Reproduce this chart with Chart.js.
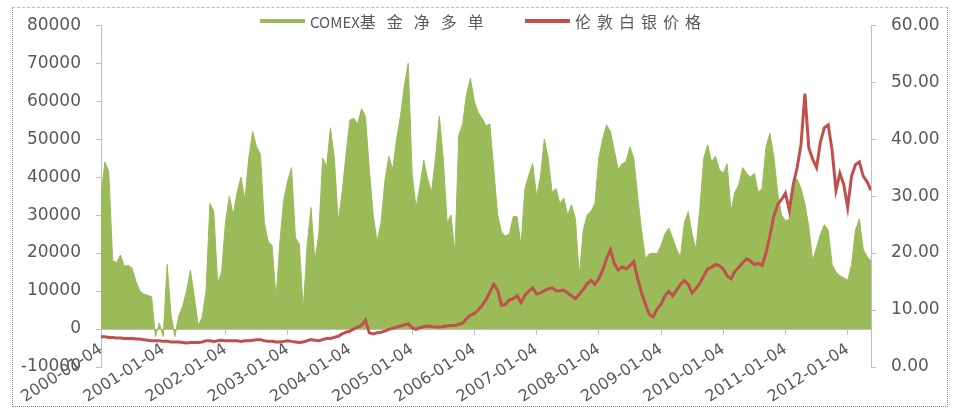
<!DOCTYPE html>
<html>
<head>
<meta charset="utf-8">
<script src="https://cdn.jsdelivr.net/npm/chart.js@4.4.1/dist/chart.umd.min.js"></script>
<style>
  html, body { margin: 0; padding: 0; background: #fff; }
  #wrap { position: relative; width: 953px; height: 409px; }
  #frame {
    position: absolute; left: 12px; top: 7px; width: 934px; height: 398px;
    border: 1px dotted #8c8c8c; border-top: 1px dashed #bdbdbd;
    pointer-events: none;
  }
  .item { position: absolute; top: 11px; height: 20px; display: flex; align-items: center;
          font-family: "Noto Sans CJK SC", "DejaVu Sans", sans-serif; font-size: 15px; color: #595959; white-space: nowrap; }
  .swatch { display: inline-block; width: 45px; height: 4px; margin-right: 5px; }
</style>
</head>
<body>
<div id="wrap">
  <canvas id="chart" width="953" height="409"></canvas>
  <div id="frame"></div>
</div>
<script>
// x positions: one value every 1/16 year starting 2000-01-04
var startYear = 2000;
var stepsPerYear = 16;
var yearLabels = ['2000-01-04', '2001-01-04', '2002-01-04', '2003-01-04', '2004-01-04', '2005-01-04',
  '2006-01-04', '2007-01-04', '2008-01-04', '2009-01-04', '2010-01-04', '2011-01-04', '2012-01-04'];

// COMEX基金净多单 (contracts)
var netLong = [
  35000, 44000, 41500, 18000, 17500, 19500, 16500, 16800, 16000, 12500, 10000, 9200, 8900, 8500, -2000, 1600,
  -2000, 17000, 3800, -2000, 3500, 6000, 10000, 15500, 8500, 1000, 3000, 10000, 33000, 31000, 12000, 15000,
  28000, 35000, 30000, 36000, 40000, 34000, 45000, 52000, 48000, 46000, 28000, 23000, 22000, 8000, 23000, 34000,
  39000, 42500, 24000, 22400, 5000, 22000, 32000, 18000, 25000, 45000, 42700, 53000, 45000, 28300, 36000, 46000,
  55000, 55500, 54000, 58000, 56000, 42000, 30000, 23000, 28000, 39000, 45500, 42000, 50000, 56000, 64000, 70000,
  41000, 32000, 37500, 44500, 39500, 36000, 45000, 56000, 45000, 28000, 30000, 20000, 51000, 54000, 62000, 66000,
  60000, 57000, 55500, 53500, 54000, 42000, 30000, 25500, 24500, 25000, 29600, 29600, 22000, 37000, 40500, 43600,
  35000, 40000, 50000, 45000, 36000, 37000, 33000, 34500, 30000, 32700, 29000, 14000, 26000, 30000, 31000, 33000,
  45000, 50000, 53800, 52000, 47000, 42000, 43500, 44000, 48000, 45000, 35000, 26000, 18500, 19800, 20000, 19800,
  22000, 25000, 26600, 24000, 21000, 19000, 28000, 30900, 25000, 21000, 32000, 45000, 48500, 44000, 45500, 42000,
  41000, 43500, 31000, 36000, 38000, 42500, 41000, 40000, 41000, 36000, 37000, 48000, 51500, 45500, 36000, 30000,
  28500, 29000, 38500, 39500, 37000, 33000, 27000, 18000, 21500, 25000, 27500, 26000, 17000, 15000, 14000, 13500,
  12800, 17000, 26000, 29000, 21000, 19000, 18000
];

// 伦敦白银价格 (USD/oz)
var silverPrice = [
  5.3, 5.3, 5.2, 5.2, 5.1, 5.1, 5.0, 5.0, 5.0, 4.9, 4.9, 4.8, 4.7, 4.6, 4.6, 4.6,
  4.5, 4.5, 4.4, 4.4, 4.4, 4.3, 4.2, 4.3, 4.3, 4.3, 4.4, 4.6, 4.6, 4.5, 4.6, 4.7,
  4.6, 4.6, 4.6, 4.6, 4.5, 4.6, 4.6, 4.7, 4.8, 4.8, 4.6, 4.5, 4.5, 4.4, 4.4, 4.5,
  4.6, 4.5, 4.4, 4.3, 4.4, 4.6, 4.8, 4.7, 4.6, 4.8, 5.0, 5.0, 5.2, 5.4, 5.8, 6.1,
  6.3, 6.7, 7.0, 7.3, 8.2, 6.0, 5.8, 6.0, 6.1, 6.3, 6.6, 6.8, 7.0, 7.2, 7.4, 7.6,
  6.9, 6.6, 6.9, 7.1, 7.2, 7.1, 7.0, 7.0, 7.1, 7.2, 7.3, 7.3, 7.5, 7.7, 8.5, 9.1,
  9.4, 10.0, 10.8, 11.8, 13.2, 14.5, 13.5, 10.8, 11.0, 11.8, 12.0, 12.5, 11.3, 12.6, 13.3, 13.9,
  12.8, 13.0, 13.4, 13.7, 13.9, 13.4, 13.4, 13.5, 13.0, 12.5, 12.0, 12.8, 13.6, 14.6, 15.2, 14.5,
  15.5, 17.0, 19.0, 20.6, 18.2, 17.0, 17.6, 17.2, 17.8, 18.5, 15.5, 13.0, 11.0, 9.2, 8.8, 10.2,
  11.0, 12.5, 13.3, 12.5, 13.5, 14.5, 15.2, 14.5, 13.0, 13.8, 14.7, 16.0, 17.2, 17.5, 18.0, 17.8,
  17.2, 16.0, 15.5, 16.8, 17.5, 18.3, 19.0, 18.6, 18.0, 18.2, 17.8, 20.0, 23.0, 26.5, 28.5, 29.4,
  30.5, 27.5, 32.0, 35.0, 39.0, 48.0, 38.5, 36.5, 35.0, 39.5, 42.0, 42.5, 38.0, 31.0, 34.0, 32.0,
  28.0, 33.5, 35.5, 36.0, 33.5, 32.5, 31.0
];

var legendX = [260, 525];
var legendCjkGap = [11, 6];

function toPoints(arr) {
  return arr.map(function (v, i) { return { x: startYear + i / stepsPerYear, y: v }; });
}

var labelFont = { family: 'DejaVu Sans', size: 17 };
var axisGrey = '#bfbfbf';
var textGrey = '#595959';

var ctx = document.getElementById('chart').getContext('2d');
var chart = new Chart(ctx, {
  type: 'line',
  data: {
    datasets: [{
      label: 'COMEX基金净多单',
      data: toPoints(netLong),
      yAxisID: 'y',
      borderColor: '#9bbb59',
      backgroundColor: '#9bbb59',
      borderWidth: 1,
      pointRadius: 0,
      fill: 'origin',
      order: 2
    }, {
      label: '伦敦白银价格',
      data: toPoints(silverPrice),
      yAxisID: 'y1',
      borderColor: '#c0504d',
      borderWidth: 3,
      pointRadius: 0,
      fill: false,
      order: 1
    }]
  },
  options: {
    responsive: false,
    animation: false,
    layout: { padding: { top: 13, bottom: 42, left: 0, right: 0 } },
    plugins: { legend: { display: false }, tooltip: { enabled: false } },
    scales: {
      x: {
        type: 'linear',
        position: { y: 0 },
        min: startYear,
        max: startYear + (netLong.length - 1) / stepsPerYear,
        grid: { drawOnChartArea: false, tickLength: 5, color: axisGrey },
        border: { color: axisGrey },
        ticks: {
          stepSize: 1,
          includeBounds: false,
          autoSkip: false,
          minRotation: 33,
          maxRotation: 33,
          padding: 6,
          color: textGrey,
          font: { family: 'DejaVu Sans', size: 16 },
          callback: function (v) { return yearLabels[Math.round(v - startYear)]; }
        }
      },
      y: {
        type: 'linear',
        position: 'left',
        min: -10000,
        max: 80000,
        grid: { drawOnChartArea: false, tickLength: 5, color: axisGrey },
        border: { color: axisGrey },
        ticks: {
          stepSize: 10000, padding: 15, color: textGrey, font: labelFont,
          callback: function (v) { return String(v); }
        },
        afterFit: function (s) { s.width = 101; }
      },
      y1: {
        type: 'linear',
        position: 'right',
        min: 0,
        max: 60,
        grid: { drawOnChartArea: false, tickLength: 5, color: axisGrey },
        border: { color: axisGrey },
        ticks: {
          stepSize: 10, padding: 15, color: textGrey, font: labelFont,
          callback: function (v) { return v.toFixed(2); }
        },
        afterFit: function (s) { s.width = 82; }
      }
    }
  }
});

// legend drawn as html on top of the plot, like the original
var wrap = document.getElementById('wrap');
chart.data.datasets.forEach(function (ds, i) {
  var item = document.createElement('div');
  item.className = 'item';
  item.style.left = legendX[i] + 'px';
  var sw = document.createElement('span');
  sw.className = 'swatch';
  sw.style.background = ds.borderColor;
  var tx = document.createElement('span');
  tx.innerHTML = ds.label.replace(/([\u4e00-\u9fff]+)/g,
    '<span style="font-size:16px;letter-spacing:' + legendCjkGap[i] + 'px">$1</span>');
  item.appendChild(sw);
  item.appendChild(tx);
  wrap.appendChild(item);
});
</script>
</body>
</html>
